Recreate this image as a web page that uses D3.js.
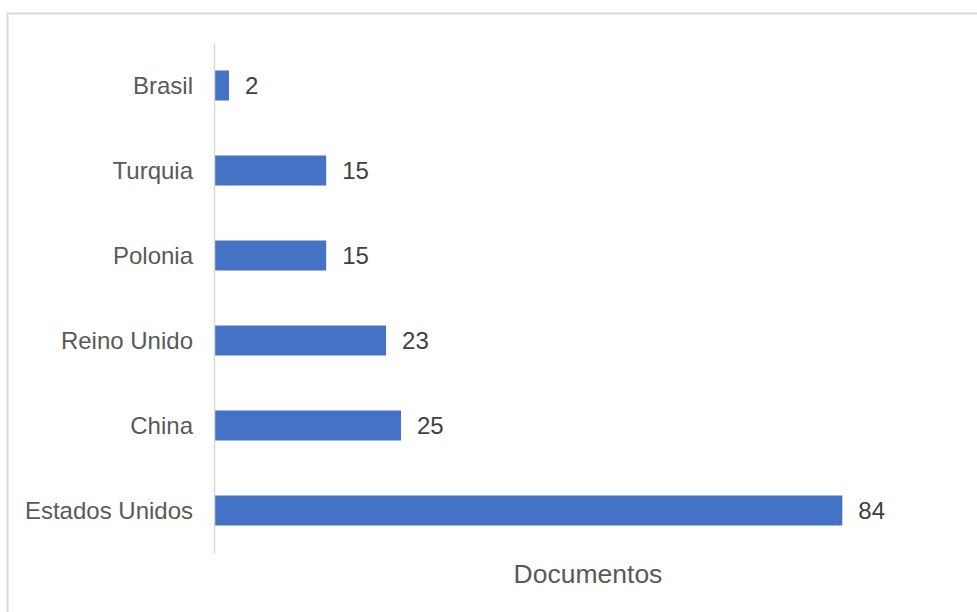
<!DOCTYPE html>
<html>
<head>
<meta charset="utf-8">
<script src="https://cdn.jsdelivr.net/npm/d3@7"></script>
<style>
  body { margin: 0; background: #fff; }
  text { font-family: "Liberation Sans", Arial, sans-serif; }
</style>
</head>
<body>
<div id="chart"></div>
<script>
// data
var countries = ["Brasil", "Turquia", "Polonia", "Reino Unido", "China", "Estados Unidos"];
var documentos = [2, 15, 15, 23, 25, 84];
var axisTitle = "Documentos";

var svgWidth = 977;
var svgHeight = 612;

var margin = {
    top: 43,
    right: 15,
    bottom: 59,
    left: 214
};

var width = svgWidth - margin.left - margin.right;
var height = svgHeight - margin.top - margin.bottom;

var svg = d3.select("#chart")
    .append("svg")
    .attr("width", svgWidth)
    .attr("height", svgHeight);

// chart frame (only top and left edges are visible)
svg.append("rect")
    .attr("x", 7.5)
    .attr("y", 13.5)
    .attr("width", 1000)
    .attr("height", 1000)
    .attr("fill", "none")
    .attr("stroke", "#d9d9d9")
    .attr("stroke-width", 2);

var chart = svg.append("g")
    .attr("transform", `translate(${margin.left}, ${margin.top})`);

var yScale = d3.scaleBand()
    .domain(countries)
    .range([0, height])
    .paddingInner(0.647)
    .paddingOuter(0.3235);

var xScale = d3.scaleLinear()
    .domain([0, 100])
    .range([0, width]);

var rows = countries.map(function(c, i) {
    return { name: c, value: documentos[i] };
});

// bars
chart.selectAll(".bar")
    .data(rows)
    .enter()
    .append("rect")
    .attr("class", "bar")
    .attr("x", xScale(0))
    .attr("y", d => yScale(d.name))
    .attr("width", d => xScale(d.value) - xScale(0))
    .attr("height", yScale.bandwidth())
    .attr("fill", "#4472C4");

// category axis
var leftAxis = d3.axisLeft(yScale).tickSize(0).tickPadding(21);
var yAxis = chart.append("g").call(leftAxis);
yAxis.select(".domain").attr("stroke", "#d9d9d9").attr("stroke-width", 1.5);
yAxis.selectAll("text")
    .attr("fill", "#595959")
    .style("font-size", "24px")
    .attr("dy", "0.36em");

// value labels
chart.selectAll(".val")
    .data(rows)
    .enter()
    .append("text")
    .attr("class", "val")
    .attr("x", d => xScale(d.value) + 16)
    .attr("y", d => yScale(d.name) + yScale.bandwidth() / 2)
    .attr("dy", "0.36em")
    .attr("fill", "#404040")
    .style("font-size", "24px")
    .text(d => d.value);

// axis title
svg.append("text")
    .attr("x", margin.left + width / 2)
    .attr("y", 583)
    .attr("text-anchor", "middle")
    .attr("fill", "#595959")
    .style("font-size", "26.5px")
    .text(axisTitle);
</script>
</body>
</html>
